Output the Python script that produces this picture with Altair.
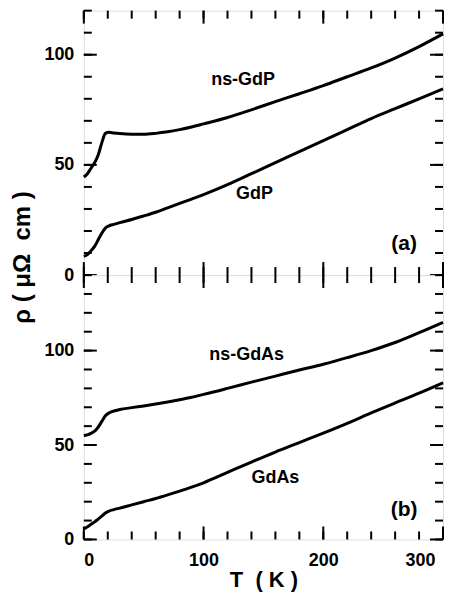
import altair as alt
import pandas as pd

# ---- data ----
T = [0, 3, 6, 9, 12, 15, 18, 21, 25, 30, 40, 50, 60, 70, 80, 90, 100,
     120, 140, 160, 180, 200, 220, 240, 260, 280, 300]

ns_gdp = [44.5, 46, 48.5, 51, 54.5, 60, 64.3, 64.8, 64.5, 64.2, 63.9, 63.9, 64.3, 65, 66, 67.2, 68.6,
          71.5, 75, 78.7, 82.3, 86, 90, 94, 98.5, 103.7, 109.5]
gdp = [8.5, 9.3, 11, 13, 16, 19, 21.3, 22.3, 23, 23.8, 25.2, 26.8, 28.5, 30.5, 32.5, 34.5, 36.5,
       41, 46, 51, 56, 61, 66, 71, 75.5, 80, 84.5]
ns_gdas = [55, 55.4, 56.2, 57.3, 59.5, 62.5, 65.5, 67, 68, 68.8, 69.8, 70.7, 71.7, 72.8, 74, 75.3, 76.8,
           80, 83.3, 86.5, 89.7, 92.8, 96.3, 100, 104.3, 109.5, 115]
gdas = [5.5, 6.7, 8, 9.3, 10.8, 12.3, 14, 15, 15.8, 16.6, 18.3, 20, 21.7, 23.6, 25.6, 27.7, 30,
        35.5, 41, 46.3, 51.3, 56.3, 61.5, 67, 72.3, 77.5, 83]

x_labels = [0, 100, 200, 300]
x_minor = list(range(0, 301, 20))
x_major = [0, 100, 200, 300]

ya_domain = [0, 120]
yb_domain = [0, 140]
ya_minor = list(range(0, 121, 10))
yb_minor = list(range(0, 141, 10))
y_major = [0, 50, 100]

a_names = ["ns-GdP", "GdP"]
a_T = [133, 142.5]
a_rho = [88.6, 36.8]
b_names = ["ns-GdAs", "GdAs"]
b_T = [136, 160]
b_rho = [97.4, 32.6]

tag_a = ["(a)"]; tag_a_T = [267.5]; tag_a_rho = [14]
tag_b = ["(b)"]; tag_b_T = [267.5]; tag_b_rho = [15.8]

X_TITLE = "T\u00a0\u00a0( K )"
Y_TITLE = "ρ ( μΩ\u00a0\u00a0cm )"

FONT = "Liberation Sans"
W, H = 360, 265
MINOR, MAJOR = 8, 13


def panel(series, ydom, yminor, names, nT, nrho, tag, tT, trho, bottom, ytitle):
    xs = alt.Scale(domain=[0, 300], nice=False, zero=False)
    ys = alt.Scale(domain=ydom, nice=False, zero=False)

    rows = []
    for name, vals in series:
        for t, v in zip(T, vals):
            rows.append({"T": t, "rho": v, "series": name})
    df = pd.DataFrame(rows)

    common = dict(ticks=False, tickSize=0, domain=False, grid=False,
                  labelFont=FONT, labelFontSize=18, labelFontWeight="bold", labelColor="black",
                  titleFont=FONT, titleFontWeight="bold", titleColor="black")
    xkw = dict(values=x_labels, labelPadding=12,
               labelOffset={"condition": {"test": "datum.value == 300", "value": -8}, "value": 0},
               **common)
    if bottom:
        xkw.update(title=X_TITLE, titleFontSize=22, titleBaseline="alphabetic", titleY=47)
    else:
        xkw.update(labels=False, title="")
    ykw = dict(values=y_major, labelPadding=10, **common)
    if ytitle:
        ykw.update(title=Y_TITLE, titleFontSize=24, titleAngle=270,
                   titleX=-61, titleY=247, titleAlign="center", titleBaseline="middle")
    else:
        ykw.update(title="")

    X = alt.X("T:Q", scale=xs, axis=alt.Axis(**xkw))
    Y = alt.Y("rho:Q", scale=ys, axis=alt.Axis(**ykw))

    lines = alt.Chart(df).mark_line(color="black", strokeWidth=3, interpolate="monotone").encode(
        x=X, y=Y, detail="series:N",
    )

    def yticks(vals, x0, x1):
        return alt.Chart(pd.DataFrame({"rho": vals})).mark_rule(color="black", strokeWidth=2).encode(
            y=Y, x=alt.value(x0), x2=alt.value(x1))

    def xticks(vals, y0, y1):
        return alt.Chart(pd.DataFrame({"T": vals})).mark_rule(color="black", strokeWidth=2).encode(
            x=X, y=alt.value(y0), y2=alt.value(y1))

    ticks = [
        yticks(yminor, 0, MINOR), yticks(y_major, 0, MAJOR),
        yticks(yminor, W, W - MINOR), yticks(y_major, W, W - MAJOR),
        xticks(x_minor, H, H - MINOR), xticks(x_major, H, H - MAJOR),
        xticks(x_minor, 0, MINOR), xticks(x_major, 0, MAJOR),
    ]

    lab = alt.Chart(pd.DataFrame({"name": names, "T": nT, "rho": nrho})).mark_text(
        font=FONT, fontSize=18, fontWeight="bold", color="black").encode(
        x=X, y=Y, text="name:N")
    tg = alt.Chart(pd.DataFrame({"name": tag, "T": tT, "rho": trho})).mark_text(
        font=FONT, fontSize=21, fontWeight="bold", color="black").encode(
        x=X, y=Y, text="name:N")

    return alt.layer(lines, *ticks, lab, tg).properties(width=W, height=H)


pa = panel([("ns-GdP", ns_gdp), ("GdP", gdp)], ya_domain, ya_minor,
           a_names, a_T, a_rho, tag_a, tag_a_T, tag_a_rho, False, True)
pb = panel([("ns-GdAs", ns_gdas), ("GdAs", gdas)], yb_domain, yb_minor,
           b_names, b_T, b_rho, tag_b, tag_b_T, tag_b_rho, True, False)

chart = alt.vconcat(pa, pb, spacing=0, bounds="flush").properties(
    padding={"left": 2, "top": 0, "right": 0, "bottom": 0}
).configure_view(
    stroke="black", strokeWidth=2.5
).configure(background="white")

chart.save("out.html", embed_options={"renderer": "svg", "actions": False})
